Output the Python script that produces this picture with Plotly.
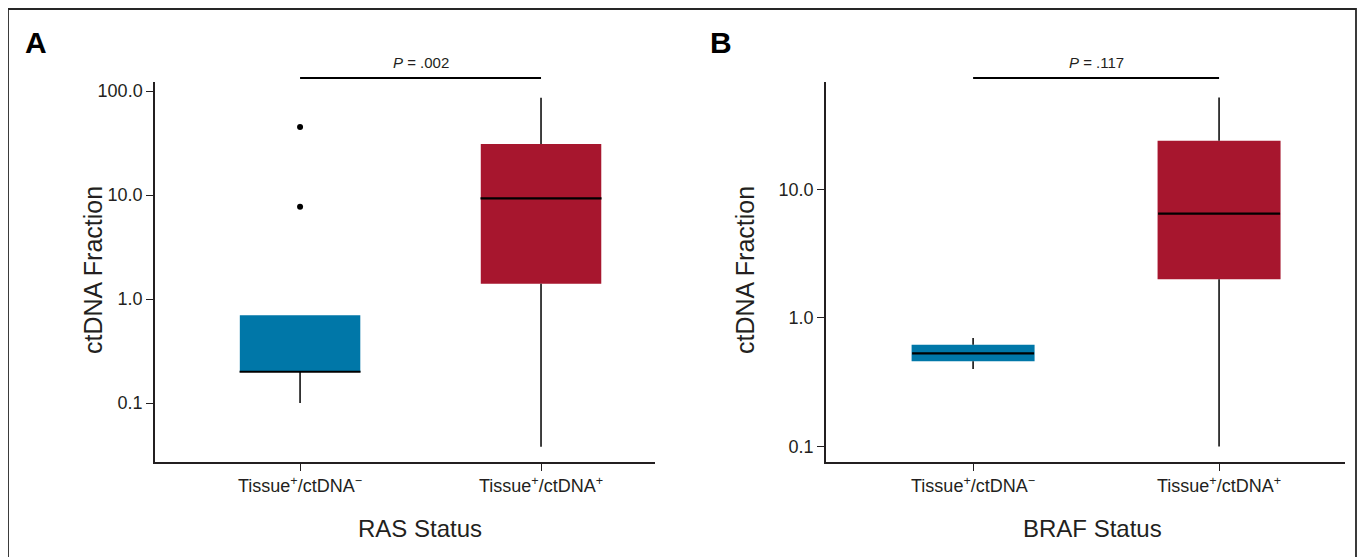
import plotly.graph_objects as go

# The page body adds an 8px margin, so the figure is drawn 8px smaller and
# every reference pixel position is shifted by that offset.
OFF = 8
W, H = 1365 - OFF, 557 - OFF


def px(x):
    return (x - OFF) / W


def py(y):
    return 1 - (y - OFF) / H


categories = ["Tissue+/ctDNA−", "Tissue+/ctDNA+"]
tick_text = ["Tissue<sup>+</sup>/ctDNA<sup>−</sup>", "Tissue<sup>+</sup>/ctDNA<sup>+</sup>"]

# Panel A - RAS
ras_q1 = [0.2, 1.4]
ras_median = [0.2, 9.3]
ras_q3 = [0.7, 31.0]
ras_lower = [0.1, 0.038]
ras_upper = [0.7, 86.0]
ras_outliers_cat = ["Tissue+/ctDNA−", "Tissue+/ctDNA−"]
ras_outliers = [45.0, 7.7]
ras_p = "<i>P</i> = .002"

# Panel B - BRAF
braf_q1 = [0.46, 2.0]
braf_median = [0.53, 6.5]
braf_q3 = [0.62, 24.0]
braf_lower = [0.40, 0.10]
braf_upper = [0.70, 52.0]
braf_p = "<i>P</i> = .117"

colors = ["#0077A8", "#A7162E"]
INK = "#231F20"
FONT = "Liberation Sans, Arial, sans-serif"

fig = go.Figure()


def add_panel(xa, ya, q1, med, q3, lo, up, box_px):
    for i, c in enumerate(categories):
        fig.add_trace(go.Box(
            x=[c], q1=[q1[i]], median=[med[i]], q3=[q3[i]],
            lowerfence=[q1[i]], upperfence=[q3[i]],
            fillcolor=colors[i], line=dict(width=0, color=colors[i]),
            width=0.5, whiskerwidth=0, boxpoints=False,
            xaxis=xa, yaxis=ya, showlegend=False, hoverinfo="skip"))
    wx, wy = [], []
    for i, c in enumerate(categories):
        wx += [c, c, None, c, c, None]
        wy += [lo[i], q1[i], None, q3[i], up[i], None]
    fig.add_trace(go.Scatter(x=wx, y=wy, mode="lines",
                             line=dict(color="black", width=1.5),
                             xaxis=xa, yaxis=ya, showlegend=False, hoverinfo="skip"))
    # line-ew marker length is 1.4 x size
    fig.add_trace(go.Scatter(x=categories, y=med, mode="markers",
                             marker=dict(symbol="line-ew", size=box_px / 1.4,
                                         line=dict(color="black", width=2.2)),
                             xaxis=xa, yaxis=ya, showlegend=False, hoverinfo="skip"))


add_panel("x", "y", ras_q1, ras_median, ras_q3, ras_lower, ras_upper, 121)
add_panel("x2", "y2", braf_q1, braf_median, braf_q3, braf_lower, braf_upper, 122)

fig.add_trace(go.Scatter(x=ras_outliers_cat, y=ras_outliers, mode="markers",
                         marker=dict(color="black", size=6),
                         xaxis="x", yaxis="y", showlegend=False, hoverinfo="skip"))

ydom = [py(462), py(82)]
axis_common = dict(showgrid=False, zeroline=False, showline=True, linecolor=INK,
                   linewidth=1.5, ticks="outside", ticklen=7, tickwidth=1.2,
                   tickcolor=INK, tickfont=dict(family=FONT, size=18, color=INK))

fig.update_layout(
    width=W, height=H, margin=dict(l=0, r=0, t=0, b=0),
    paper_bgcolor="white", plot_bgcolor="white", boxmode="overlay",
    xaxis=dict(domain=[px(155), px(655)], type="category", categoryorder="array",
               categoryarray=categories, range=[-0.602, 1.473],
               tickvals=categories, ticktext=tick_text, anchor="y", **axis_common),
    yaxis=dict(domain=ydom, type="log", range=[-1.567, 2.087],
               tickvals=[0.1, 1, 10, 100], ticktext=["0.1", "1.0", "10.0", "100.0"],
               anchor="x", **axis_common),
    xaxis2=dict(domain=[px(826), px(1345)], type="category", categoryorder="array",
                categoryarray=categories, range=[-0.598, 1.512],
                tickvals=categories, ticktext=tick_text, anchor="y2", **axis_common),
    yaxis2=dict(domain=ydom, type="log", range=[-1.121, 1.837],
                tickvals=[0.1, 1, 10], ticktext=["0.1", "1.0", "10.0"],
                anchor="x2", **axis_common),
)

shapes = [
    dict(type="rect", xref="paper", yref="paper", x0=px(8), x1=px(1356),
         y0=-0.1, y1=py(9), line=dict(color="#262626", width=1.8)),
    dict(type="line", xref="x", yref="paper", x0=0, x1=1, y0=py(78), y1=py(78),
         line=dict(color="black", width=2)),
    dict(type="line", xref="x2", yref="paper", x0=0, x1=1, y0=py(78), y1=py(78),
         line=dict(color="black", width=2)),
]
fig.update_layout(shapes=shapes)


def label(text, x, y, size, xref="paper", angle=0, color=INK):
    return dict(text=text, xref=xref, yref="paper", x=x, y=y, showarrow=False,
                xanchor="center", yanchor="middle", textangle=angle,
                font=dict(family=FONT, size=size, color=color))


ann = [
    label(ras_p, 0.5, py(62), 15, xref="x"),
    label(braf_p, 0.5, py(62), 15, xref="x2"),
    label("<b>A</b>", px(36), py(42), 30, color="black"),
    label("<b>B</b>", px(721), py(42), 30, color="black"),
    label("RAS Status", px(420), py(528), 24),
    label("BRAF Status", px(1092), py(528), 24),
    label("ctDNA Fraction", px(93), py(270), 25, angle=-90),
    label("ctDNA Fraction", px(745), py(270), 25, angle=-90),
]
fig.update_layout(annotations=ann)

fig.write_html("out.html")
